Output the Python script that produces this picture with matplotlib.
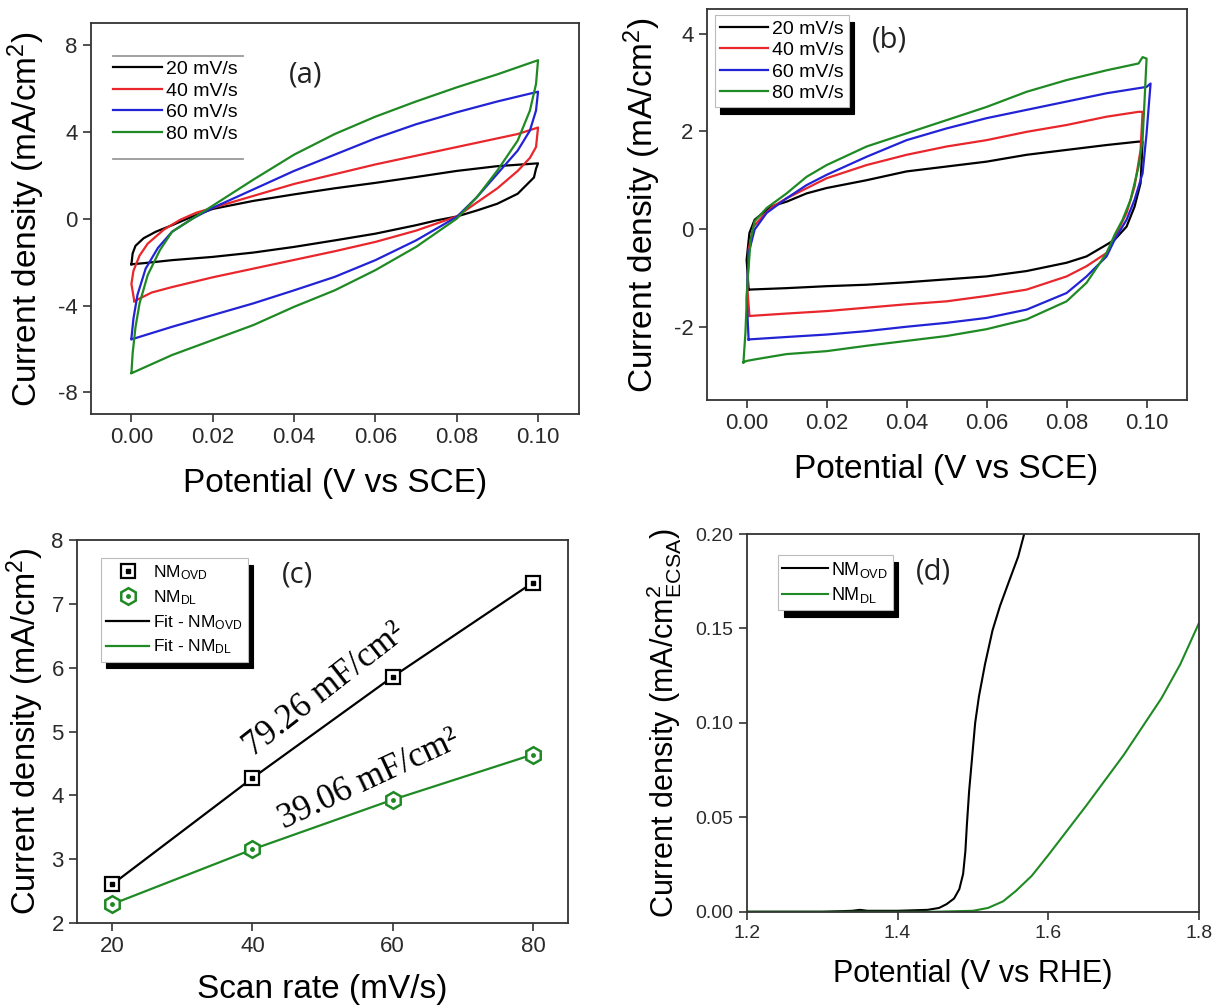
import matplotlib
matplotlib.use("Agg")
import matplotlib.pyplot as plt
from matplotlib.legend_handler import HandlerTuple

plt.rcParams['font.family'] = ['Liberation Sans', 'DejaVu Sans']
plt.rcParams['mathtext.fontset'] = 'custom'
plt.rcParams['mathtext.rm'] = 'Liberation Sans'
plt.rcParams['mathtext.it'] = 'Liberation Sans:italic'
plt.rcParams['mathtext.bf'] = 'Liberation Sans:bold'
plt.rcParams['mathtext.default'] = 'regular'
plt.rcParams['axes.unicode_minus'] = False

rates = ['20 mV/s', '40 mV/s', '60 mV/s', '80 mV/s']
colors = ['black', '#e8262b', '#2323d6', '#1f8a24']

# ---- (a) CV loops, forward + reverse sweep, NM_OVD ----
a20_v = [0.0, 0.0003, 0.001, 0.003, 0.006, 0.01, 0.015, 0.02, 0.03, 0.04, 0.05, 0.06, 0.07, 0.08, 0.09, 0.1,
         0.0995, 0.099, 0.095, 0.09, 0.085, 0.08, 0.075, 0.07, 0.06, 0.05, 0.04, 0.03, 0.02, 0.01, 0.003, 0.0]
a20_j = [-2.1, -1.6, -1.25, -0.9, -0.6, -0.3, 0.1, 0.45, 0.82, 1.12, 1.4, 1.65, 1.92, 2.2, 2.42, 2.55,
         2.3, 1.9, 1.15, 0.69, 0.38, 0.1, -0.08, -0.3, -0.69, -1.0, -1.3, -1.56, -1.76, -1.91, -2.05, -2.1]
a40_v = [0.0007, 0.0, 0.0005, 0.002, 0.004, 0.008, 0.012, 0.016, 0.02, 0.03, 0.04, 0.05, 0.06, 0.07, 0.08, 0.09,
         0.095, 0.1, 0.0995, 0.098, 0.095, 0.09, 0.085, 0.08, 0.07, 0.06, 0.05, 0.04, 0.03, 0.02, 0.01, 0.005, 0.0007]
a40_j = [-3.8, -3.0, -2.4, -1.7, -1.15, -0.5, -0.05, 0.28, 0.5, 1.05, 1.6, 2.05, 2.5, 2.9, 3.3, 3.7,
         3.9, 4.2, 3.3, 2.8, 2.2, 1.4, 0.75, 0.1, -0.55, -1.07, -1.5, -1.9, -2.3, -2.7, -3.15, -3.4, -3.8]
a60_v = [0.0, 0.0005, 0.0015, 0.0035, 0.0065, 0.01, 0.015, 0.02, 0.03, 0.04, 0.05, 0.06, 0.07, 0.08, 0.09, 0.1,
         0.0995, 0.098, 0.095, 0.09, 0.085, 0.08, 0.07, 0.06, 0.05, 0.04, 0.03, 0.02, 0.01, 0.0]
a60_j = [-5.5, -4.6, -3.5, -2.3, -1.35, -0.6, 0.0, 0.5, 1.35, 2.2, 2.95, 3.7, 4.35, 4.9, 5.4, 5.85,
         4.98, 4.06, 3.14, 2.07, 1.0, 0.08, -1.0, -1.91, -2.68, -3.3, -3.9, -4.44, -4.98, -5.56]
a80_v = [0.0, 0.0003, 0.001, 0.002, 0.004, 0.007, 0.01, 0.015, 0.02, 0.03, 0.04, 0.05, 0.06, 0.07, 0.08, 0.09, 0.1,
         0.0995, 0.098, 0.095, 0.09, 0.085, 0.08, 0.07, 0.06, 0.05, 0.04, 0.03, 0.02, 0.01, 0.0]
a80_j = [-7.1, -6.2, -5.0, -3.9, -2.6, -1.45, -0.6, 0.0, 0.6, 1.8, 2.95, 3.9, 4.7, 5.4, 6.05, 6.65, 7.3,
         6.2, 4.98, 3.6, 2.22, 1.0, 0.0, -1.3, -2.37, -3.3, -4.06, -4.9, -5.59, -6.28, -7.12]

# ---- (b) CV loops, NM_DL ----
b20_v = [0.0005, 0.0, 0.0007, 0.002, 0.006, 0.01, 0.015, 0.02, 0.03, 0.04, 0.05, 0.06, 0.07, 0.08, 0.09, 0.098,
         0.099, 0.0985, 0.097, 0.095, 0.092, 0.09, 0.085, 0.08, 0.07, 0.06, 0.05, 0.04, 0.03, 0.02, 0.01, 0.0005]
b20_j = [-1.24, -0.63, -0.08, 0.19, 0.46, 0.56, 0.73, 0.84, 1.0, 1.18, 1.28, 1.38, 1.52, 1.62, 1.72, 1.79,
         1.79, 0.94, 0.46, 0.05, -0.22, -0.32, -0.56, -0.69, -0.86, -0.97, -1.03, -1.09, -1.14, -1.17, -1.21, -1.24]
b40_v = [0.0007, 0.0002, 0.0005, 0.0017, 0.004, 0.0065, 0.01, 0.02, 0.03, 0.04, 0.05, 0.06, 0.07, 0.08, 0.09, 0.098,
         0.099, 0.0985, 0.097, 0.095, 0.092, 0.09, 0.085, 0.08, 0.07, 0.06, 0.05, 0.04, 0.03, 0.02, 0.01, 0.0007]
b40_j = [-1.78, -1.24, -0.42, 0.05, 0.26, 0.46, 0.63, 1.04, 1.31, 1.52, 1.69, 1.82, 1.99, 2.13, 2.3, 2.4,
         2.4, 1.62, 0.87, 0.33, -0.18, -0.49, -0.76, -0.97, -1.24, -1.37, -1.48, -1.54, -1.61, -1.68, -1.73, -1.78]
b60_v = [0.0005, 0.0, 0.0005, 0.002, 0.005, 0.01, 0.015, 0.02, 0.03, 0.04, 0.05, 0.06, 0.07, 0.08, 0.09, 0.1, 0.101,
         0.1, 0.099, 0.097, 0.095, 0.092, 0.09, 0.085, 0.08, 0.07, 0.06, 0.05, 0.04, 0.03, 0.02, 0.01, 0.0005]
b60_j = [-2.26, -1.44, -0.49, -0.01, 0.33, 0.63, 0.9, 1.11, 1.48, 1.82, 2.06, 2.27, 2.44, 2.61, 2.78, 2.91, 2.98,
         1.96, 1.14, 0.6, 0.19, -0.22, -0.56, -0.97, -1.31, -1.65, -1.82, -1.92, -2.0, -2.09, -2.16, -2.21, -2.26]
b80_v = [-0.0008, -0.0003, 0.0002, 0.001, 0.002, 0.005, 0.01, 0.015, 0.02, 0.03, 0.04, 0.05, 0.06, 0.07, 0.08, 0.09, 0.098,
         0.099, 0.1, 0.0995, 0.099, 0.098, 0.096, 0.094, 0.092, 0.09, 0.085, 0.08, 0.07, 0.06, 0.05, 0.04, 0.03, 0.02, 0.01,
         0.002, 0.0, -0.0008]
b80_j = [-2.73, -2.12, -1.1, -0.22, 0.16, 0.43, 0.73, 1.07, 1.31, 1.69, 1.96, 2.23, 2.5, 2.81, 3.05, 3.25, 3.39,
         3.52, 3.49, 2.64, 1.82, 1.28, 0.6, 0.19, -0.12, -0.49, -1.1, -1.48, -1.85, -2.05, -2.19, -2.29, -2.39, -2.5, -2.56,
         -2.67, -2.7, -2.73]

# ---- (c) scan-rate dependence ----
scan_rate = [20, 40, 60, 80]
j_ovd = [2.6, 4.27, 5.86, 7.34]
j_dl = [2.29, 3.15, 3.93, 4.64]
cdl_ovd = '79.26 mF/cm²'
cdl_dl = '39.06 mF/cm²'

# ---- (d) ECSA-normalised LSV ----
d_ovd_v = [1.2, 1.3, 1.34, 1.35, 1.36, 1.4, 1.44, 1.455, 1.465, 1.475, 1.482, 1.487, 1.49, 1.492, 1.495, 1.499,
           1.503, 1.508, 1.516, 1.526, 1.536, 1.547, 1.56, 1.568]
d_ovd_j = [0.0, 0.0, 0.0005, 0.001, 0.0005, 0.0005, 0.001, 0.002, 0.004, 0.007, 0.012, 0.02, 0.032, 0.046, 0.064, 0.082,
           0.1, 0.114, 0.131, 0.149, 0.162, 0.174, 0.188, 0.2]
d_dl_v = [1.2, 1.45, 1.5, 1.52, 1.54, 1.557, 1.578, 1.6, 1.65, 1.7, 1.75, 1.775, 1.8]
d_dl_j = [0.0, 0.0, 0.0005, 0.002, 0.0055, 0.011, 0.019, 0.03, 0.056, 0.083, 0.113, 0.131, 0.153]

fig = plt.figure(figsize=(12.15, 10.05), dpi=100)
ax_a = fig.add_axes([0.0747, 0.588, 0.4016, 0.3888])
ax_b = fig.add_axes([0.5816, 0.602, 0.395, 0.3888])
ax_c = fig.add_axes([0.0634, 0.0819, 0.4041, 0.3803])
ax_d = fig.add_axes([0.6146, 0.0928, 0.3723, 0.3758])

tick_col = '#2a2a2a'


def style(ax, tsize=16):
    for s in ax.spines.values():
        s.set_linewidth(1.3)
        s.set_color('#333333')
    ax.tick_params(direction='out', length=6, width=1.2, labelsize=tsize,
                   colors='#333333', labelcolor=tick_col, top=False, right=False)


def label_panel(ax, x, y, txt):
    ax.text(x, y, txt, transform=ax.transAxes, ha='center', va='center',
            fontsize=21, family=['Open Sans', 'DejaVu Sans'], color='#222222')


shadow = {'ox': 4, 'oy': -5, 'facecolor': 'black', 'edgecolor': 'black', 'alpha': 1}

# (a)
for v, j, c, r in zip([a20_v, a40_v, a60_v, a80_v], [a20_j, a40_j, a60_j, a80_j], colors, rates):
    ax_a.plot(v, j, color=c, lw=1.6, label=r)
ax_a.set_xlim(-0.01, 0.11)
ax_a.set_ylim(-9, 9)
ax_a.set_xticks([0.0, 0.02, 0.04, 0.06, 0.08, 0.10])
ax_a.set_xticklabels(['0.00', '0.02', '0.04', '0.06', '0.08', '0.10'])
ax_a.set_yticks([-8, -4, 0, 4, 8])
style(ax_a)
ax_a.set_xlabel('Potential (V vs SCE)', fontsize=24, labelpad=14)
ax_a.set_ylabel('Current density (mA/cm$^2$)', fontsize=24, labelpad=8)
ax_a.legend(loc='upper left', bbox_to_anchor=(0.046, 0.905), frameon=False, fontsize=14,
            handlelength=2.5, handletextpad=0.2, labelspacing=0.2, borderaxespad=0, borderpad=0)
ax_a.plot([0.046, 0.312], [0.916, 0.916], transform=ax_a.transAxes, color='#9a9a9a', lw=1.3)
ax_a.plot([0.046, 0.312], [0.653, 0.653], transform=ax_a.transAxes, color='#9a9a9a', lw=1.3)
label_panel(ax_a, 0.441, 0.868, '(a)')

# (b)
for v, j, c, r in zip([b20_v, b40_v, b60_v, b80_v], [b20_j, b40_j, b60_j, b80_j], colors, rates):
    ax_b.plot(v, j, color=c, lw=1.6, label=r)
ax_b.set_xlim(-0.01, 0.11)
ax_b.set_ylim(-3.5, 4.5)
ax_b.set_xticks([0.0, 0.02, 0.04, 0.06, 0.08, 0.10])
ax_b.set_xticklabels(['0.00', '0.02', '0.04', '0.06', '0.08', '0.10'])
ax_b.set_yticks([-2, 0, 2, 4])
style(ax_b)
ax_b.set_xlabel('Potential (V vs SCE)', fontsize=24, labelpad=14)
ax_b.set_ylabel('Current density (mA/cm$^2$)', fontsize=24, labelpad=8)
leg = ax_b.legend(loc='upper left', bbox_to_anchor=(0.017, 0.985), fontsize=14, fancybox=False,
                  edgecolor='#bbbbbb', framealpha=1, shadow=shadow, handlelength=2.5,
                  handletextpad=0.2, labelspacing=0.2, borderaxespad=0, borderpad=0.25)
leg.get_frame().set_linewidth(0.8)
label_panel(ax_b, 0.38, 0.921, '(b)')

# (c)
green = colors[3]
ax_c.plot(scan_rate, j_ovd, color='black', lw=1.6)
ax_c.plot(scan_rate, j_dl, color=green, lw=1.6)
sq_o, = ax_c.plot(scan_rate, j_ovd, 's', ms=10, mfc='white', mec='black', mew=1.6, ls='none')
sq_i, = ax_c.plot(scan_rate, j_ovd, 's', ms=3, color='black', ls='none')
hx_o, = ax_c.plot(scan_rate, j_dl, 'h', ms=12, mfc='white', mec=green, mew=1.8, ls='none')
hx_i, = ax_c.plot(scan_rate, j_dl, 'o', ms=2.5, color=green, ls='none')
fit_k, = ax_c.plot([], [], color='black', lw=1.6)
fit_g, = ax_c.plot([], [], color=green, lw=1.6)
ax_c.set_xlim(15, 85)
ax_c.set_ylim(2, 8)
ax_c.set_xticks(scan_rate)
ax_c.set_yticks([2, 3, 4, 5, 6, 7, 8])
style(ax_c)
ax_c.set_xlabel('Scan rate (mV/s)', fontsize=24, labelpad=12)
ax_c.set_ylabel('Current density (mA/cm$^2$)', fontsize=23.5, labelpad=4)
leg = ax_c.legend([(sq_o, sq_i), (hx_o, hx_i), fit_k, fit_g],
                  ['NM$_{OVD}$', 'NM$_{DL}$', 'Fit - NM$_{OVD}$', 'Fit - NM$_{DL}$'],
                  handler_map={tuple: HandlerTuple(ndivide=1)}, numpoints=1,
                  loc='upper left', bbox_to_anchor=(0.048, 0.954), fontsize=12.5, fancybox=False,
                  edgecolor='#bbbbbb', framealpha=1, shadow=shadow, handlelength=2.5,
                  handletextpad=0.2, labelspacing=0.35, borderaxespad=0, borderpad=0.3)
leg.get_frame().set_linewidth(0.8)
ax_c.text(50.3, 5.65, cdl_ovd, rotation=38, ha='center', va='center', rotation_mode='anchor',
          fontsize=25, family=['Liberation Serif', 'DejaVu Serif'])
ax_c.text(56.6, 4.24, cdl_dl, rotation=25, ha='center', va='center', rotation_mode='anchor',
          fontsize=25, family=['Liberation Serif', 'DejaVu Serif'])
label_panel(ax_c, 0.45, 0.91, '(c)')

# (d)
ax_d.plot(d_ovd_v, d_ovd_j, color='black', lw=1.5, label='NM$_{OVD}$')
ax_d.plot(d_dl_v, d_dl_j, color=green, lw=1.5, label='NM$_{DL}$')
ax_d.set_xlim(1.2, 1.8)
ax_d.set_ylim(0, 0.2)
ax_d.set_xticks([1.2, 1.4, 1.6, 1.8])
ax_d.set_yticks([0.0, 0.05, 0.10, 0.15, 0.20])
ax_d.set_yticklabels(['0.00', '0.05', '0.10', '0.15', '0.20'])
style(ax_d, tsize=14)
ax_d.set_xlabel('Potential (V vs RHE)', fontsize=22, labelpad=12)
ax_d.set_ylabel('Current density (mA/cm$^2_{ECSA}$)', fontsize=22, labelpad=8)
leg = ax_d.legend(loc='upper left', bbox_to_anchor=(0.069, 0.944), fontsize=13, fancybox=False,
                  edgecolor='#bbbbbb', framealpha=1, shadow=shadow, handlelength=2.5,
                  handletextpad=0.2, labelspacing=0.3, borderaxespad=0, borderpad=0.25)
leg.get_frame().set_linewidth(0.8)
label_panel(ax_d, 0.412, 0.9, '(d)')

fig.savefig('out.png', dpi=100, facecolor='white')
